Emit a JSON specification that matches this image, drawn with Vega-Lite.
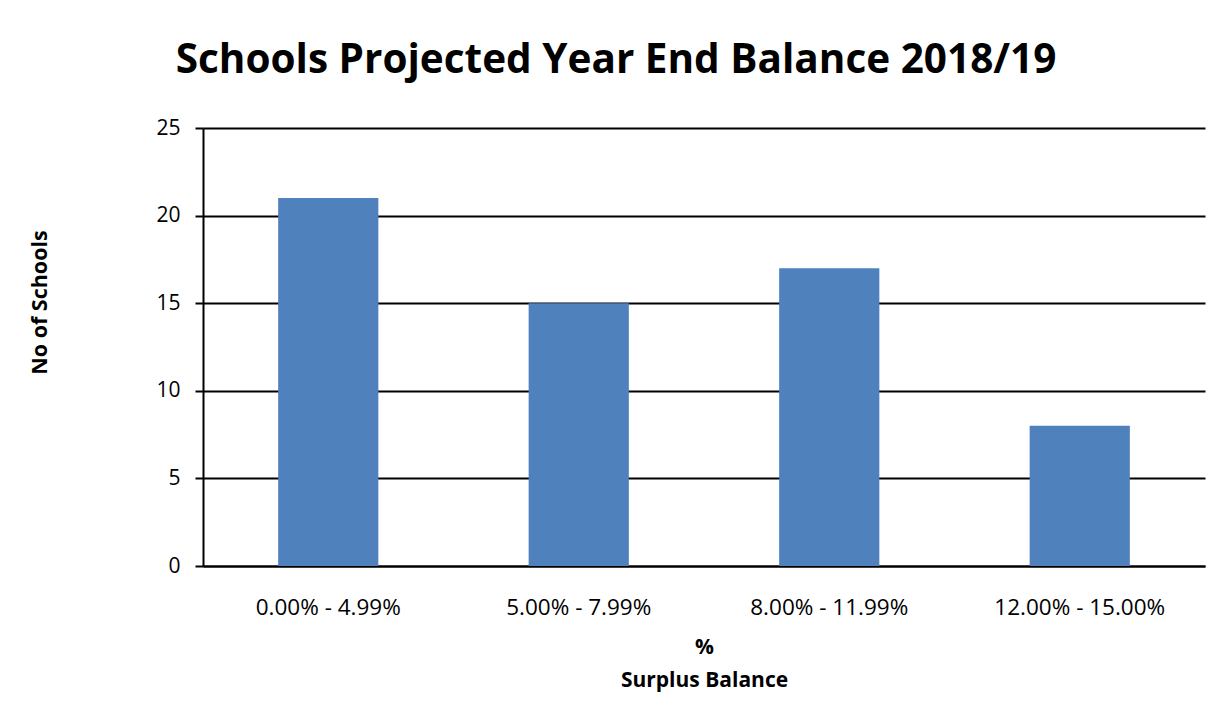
{
  "$schema": "https://vega.github.io/schema/vega-lite/v6.json",
  "autosize": "none",
  "width": 1002,
  "height": 438,
  "padding": {"left": 203, "top": 128, "right": 19, "bottom": 154},
  "background": "white",
  "config": {"font": "Open Sans", "view": {"stroke": null}},
  "title": {
    "text": "Schools Projected Year End Balance 2018/19",
    "font": "Open Sans",
    "fontSize": 40.5,
    "fontWeight": "bold",
    "color": "black",
    "anchor": "middle",
    "dx": -88,
    "offset": 36
  },
  "data": {
    "values": [
      {"range": "0.00% - 4.99%", "schools": 21},
      {"range": "5.00% - 7.99%", "schools": 15},
      {"range": "8.00% - 11.99%", "schools": 17},
      {"range": "12.00% - 15.00%", "schools": 8}
    ]
  },
  "mark": {"type": "bar", "color": "#4F81BD"},
  "encoding": {
    "x": {
      "field": "range",
      "type": "nominal",
      "sort": null,
      "scale": {"paddingInner": 0.6, "paddingOuter": 0.3},
      "axis": {
        "title": ["%", "Surplus Balance"],
        "titleFont": "Open Sans",
        "titleFontSize": 21,
        "titleFontWeight": "bold",
        "titleColor": "black",
        "titlePadding": 18,
        "titleLineHeight": 33,
        "labelAngle": 0,
        "labelFont": "Open Sans",
        "labelFontSize": 22.5,
        "labelColor": "black",
        "labelPadding": 30,
        "ticks": false,
        "domainColor": "black",
        "domainWidth": 2,
        "grid": false
      }
    },
    "y": {
      "field": "schools",
      "type": "quantitative",
      "scale": {"domain": [0, 25]},
      "axis": {
        "title": "No of Schools",
        "titleFont": "Open Sans",
        "titleFontSize": 21.5,
        "titleFontWeight": "bold",
        "titleColor": "black",
        "titleAngle": -90,
        "titleX": -163,
        "titleY": 174,
        "titleAlign": "center",
        "titleBaseline": "middle",
        "values": [0, 5, 10, 15, 20, 25],
        "labelFont": "Open Sans",
        "labelFontSize": 21,
        "labelColor": "black",
        "labelPadding": 15,
        "tickColor": "black",
        "tickSize": 8,
        "tickWidth": 2,
        "domainColor": "black",
        "domainWidth": 2,
        "grid": true,
        "gridColor": "black",
        "gridWidth": 2,
        "gridOpacity": 1
      }
    }
  }
}
